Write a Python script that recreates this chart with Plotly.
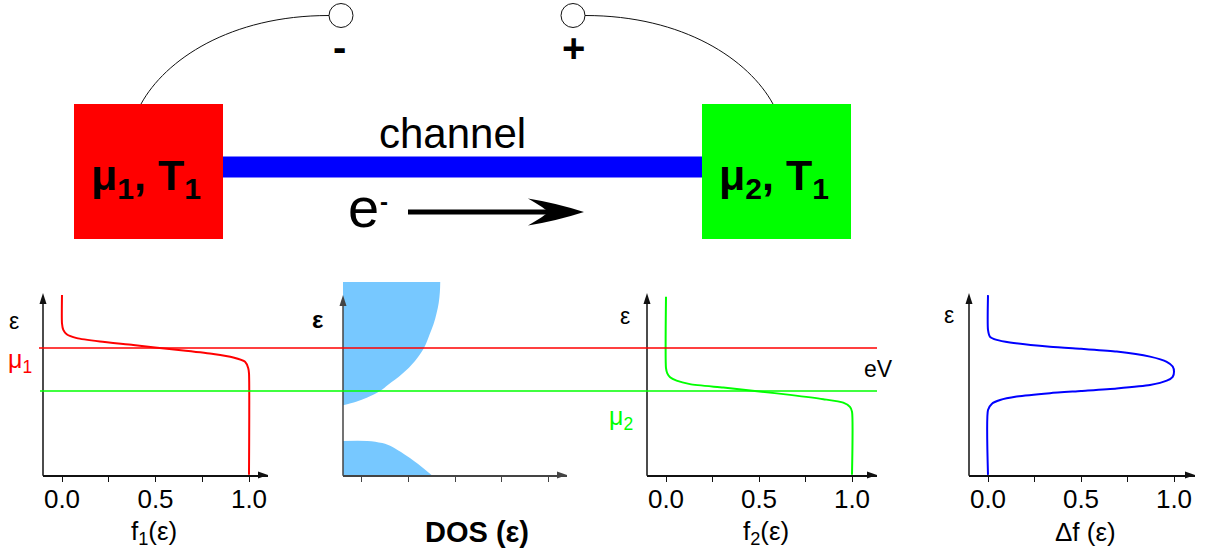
import plotly.graph_objects as go

W, H = 1205, 559

# Energy axis: ε in units of eV, with μ2 = 0 and μ1 = 1
MU1 = 1.0
MU2 = 0.0

# Fermi occupation of the left reservoir, f1(ε)
f1_eps = [2.23, 1.57, 1.42, 1.32, 1.23, 1.15, 1.07, 1.01, 0.94, 0.86, 0.78, 0.68, 0.53, 0.41, -1.95]
f1_val = [0.0, 0.0, 0.007, 0.025, 0.079, 0.203, 0.381, 0.497, 0.649, 0.809, 0.916, 0.979, 0.996, 1.0, 1.0]

# Fermi occupation of the right reservoir, f2(ε)
f2_eps = [2.19, 0.53, 0.41, 0.32, 0.24, 0.16, 0.08, -0.01, -0.09, -0.19, -0.27, -0.37, -0.48, -1.95]
f2_val = [0.0, 0.0, 0.007, 0.022, 0.057, 0.129, 0.308, 0.502, 0.667, 0.846, 0.953, 0.989, 1.0, 1.0]

# Transport window Δf(ε) = f1 - f2
df_eps = [2.23, 1.42, 1.26, 1.19, 1.13, 1.03, 0.98, 0.92, 0.80, 0.68, 0.57, 0.45,
          0.33, 0.24, 0.14, 0.06, 0.0, -0.05, -0.13, -0.21, -0.30, -0.44, -1.95]
df_val = [0.0, 0.0, 0.011, 0.047, 0.118, 0.333, 0.5, 0.692, 0.871, 0.961, 0.993, 1.0,
          0.993, 0.961, 0.871, 0.692, 0.5, 0.333, 0.154, 0.065, 0.020, 0.0, 0.0]

# Density of states of the channel: upper band and lower band
cb_eps = [2.54, 2.30, 2.05, 1.80, 1.55, 1.30, 1.00, 0.70, 0.40, 0.15, 0.0, -0.15, -0.25, -0.33]
cb_dos = [0.520, 0.518, 0.512, 0.500, 0.484, 0.462, 0.433, 0.385, 0.317, 0.243, 0.198, 0.130, 0.070, 0.0]
vb_eps = [-1.16, -1.16, -1.21, -1.30, -1.42, -1.61, -1.79, -1.96]
vb_dos = [0.0, 0.13, 0.21, 0.265, 0.31, 0.374, 0.428, 0.475]

f_ticks = [0.0, 0.5, 1.0]
f_ticktext = ["0.0", "0.5", "1.0"]
f_minor = [0.25, 0.75]

RED = "#FF0000"
GREEN = "#00FF00"
BLUE = "#0000FF"
DOS_BLUE = "#77C8FF"
FONT = "Liberation Sans, Arial, sans-serif"


def px(x):
    return x / W


def py(y):
    return 1 - y / H


# panel geometry in pixels: axis start, arrow tip, position of value 0, px per unit
PANELS = {
    "x": dict(left=43, right=268, zero=62, scale=187, color="#111111"),
    "x2": dict(left=343, right=567, zero=343, scale=187, color="#444444"),
    "x3": dict(left=647, right=877, zero=666, scale=186, color="#111111"),
    "x4": dict(left=969, right=1195, zero=988, scale=186, color="#111111"),
}
AX_Y = 475          # pixel row of the horizontal axes
TOP_Y = 282         # top of the plotting area
MU2_Y = 391         # pixel row of μ2
PX_PER_EV = 43

eps_lo = (MU2_Y - AX_Y) / PX_PER_EV
eps_hi = (MU2_Y - TOP_Y) / PX_PER_EV

fig = go.Figure()

fig.add_trace(go.Scatter(x=cb_dos, y=cb_eps, xaxis="x2", yaxis="y", mode="lines",
                         fill="tozerox", fillcolor=DOS_BLUE,
                         line=dict(width=0, color=DOS_BLUE, shape="spline", smoothing=1.0),
                         hoverinfo="skip"))
fig.add_trace(go.Scatter(x=vb_dos, y=vb_eps, xaxis="x2", yaxis="y", mode="lines",
                         fill="tozerox", fillcolor=DOS_BLUE,
                         line=dict(width=0, color=DOS_BLUE, shape="spline", smoothing=1.0),
                         hoverinfo="skip"))
fig.add_trace(go.Scatter(x=f1_val, y=f1_eps, xaxis="x", yaxis="y", mode="lines",
                         line=dict(color=RED, width=2, shape="spline", smoothing=0.6)))
fig.add_trace(go.Scatter(x=f2_val, y=f2_eps, xaxis="x3", yaxis="y", mode="lines",
                         line=dict(color=GREEN, width=2, shape="spline", smoothing=0.6)))
fig.add_trace(go.Scatter(x=df_val, y=df_eps, xaxis="x4", yaxis="y", mode="lines",
                         line=dict(color=BLUE, width=2, shape="spline", smoothing=0.6)))

layout_axes = {}
for name, p in PANELS.items():
    key = "xaxis" if name == "x" else "xaxis" + name[1:]
    ax = dict(
        domain=[px(p["left"]), px(p["right"])],
        range=[(p["left"] - p["zero"]) / p["scale"], (p["right"] - p["zero"]) / p["scale"]],
        anchor="y", showgrid=False, zeroline=False,
        showline=True, linecolor=p["color"], linewidth=1.5,
        ticks="outside", ticklen=5, tickwidth=1, tickcolor=p["color"],
        tickfont=dict(family=FONT, size=26, color="black"),
        ticklabelstandoff=-5,
        fixedrange=True,
    )
    if name == "x2":
        ax.update(tickmode="linear", tick0=0.1, dtick=0.25, showticklabels=False)
    else:
        ax.update(tickmode="array", tickvals=f_ticks, ticktext=f_ticktext,
                  minor=dict(tickvals=f_minor, ticks="outside", ticklen=5,
                             tickwidth=1, tickcolor=p["color"], showgrid=False))
    layout_axes[key] = ax

shapes = []


def tri(pts, color):
    d = "M " + " L ".join(f"{px(x):.5f},{py(y):.5f}" for x, y in pts) + " Z"
    return dict(type="path", path=d, xref="paper", yref="paper",
                fillcolor=color, line=dict(width=0), layer="above")


# vertical axes with arrowheads, horizontal arrowheads
for name, p in PANELS.items():
    c = p["color"]
    tip = 295 if name == "x2" else 293
    shapes.append(dict(type="line", xref="paper", yref="paper",
                       x0=px(p["left"]), x1=px(p["left"]), y0=py(AX_Y + 0.75), y1=py(tip + 6),
                       line=dict(color=c, width=1.5), layer="above"))
    shapes.append(tri([(p["left"], tip), (p["left"] - 3.5, tip + 11), (p["left"] + 3.5, tip + 11)], c))
    shapes.append(tri([(p["right"], AX_Y), (p["right"] - 10, AX_Y - 3.5), (p["right"] - 10, AX_Y + 3.5)], c))

# chemical potential levels running across the panels
shapes.append(dict(type="line", xref="paper", yref="y", x0=px(39), x1=px(877), y0=MU1, y1=MU1,
                   line=dict(color=RED, width=1.3), layer="above"))
shapes.append(dict(type="line", xref="paper", yref="y", x0=px(40), x1=px(877), y0=MU2, y1=MU2,
                   line=dict(color=GREEN, width=1.3), layer="above"))

# device sketch: reservoirs, channel, leads and terminals
shapes.append(dict(type="rect", xref="paper", yref="paper", x0=px(222), x1=px(703),
                   y0=py(177.5), y1=py(156.5), fillcolor=BLUE, line=dict(width=0)))
shapes.append(dict(type="rect", xref="paper", yref="paper", x0=px(74), x1=px(223),
                   y0=py(239), y1=py(104), fillcolor=RED, line=dict(width=0)))
shapes.append(dict(type="rect", xref="paper", yref="paper", x0=px(702), x1=px(851),
                   y0=py(239), y1=py(104), fillcolor=GREEN, line=dict(width=0)))


def path(cmds):
    out = []
    for c in cmds:
        if isinstance(c, str):
            out.append(c)
        else:
            out.append(f"{px(c[0]):.5f},{py(c[1]):.5f}")
    return " ".join(out)


shapes.append(dict(type="path", xref="paper", yref="paper",
                   path=path(["M", (141, 104), "C", (165, 60), (230, 15.5), (329, 15.5)]),
                   line=dict(color="#111111", width=1)))
shapes.append(dict(type="path", xref="paper", yref="paper",
                   path=path(["M", (773, 104), "C", (749, 60), (684, 15.5), (585, 15.5)]),
                   line=dict(color="#111111", width=1)))
for cx in (341, 573):
    shapes.append(dict(type="circle", xref="paper", yref="paper",
                       x0=px(cx - 12), x1=px(cx + 12), y0=py(27.5), y1=py(3.5),
                       fillcolor="white", line=dict(color="#111111", width=1)))

# electron flow arrow
shapes.append(dict(type="line", xref="paper", yref="paper", x0=px(408), x1=px(550),
                   y0=py(212), y1=py(212), line=dict(color="black", width=5)))
shapes.append(dict(type="path", xref="paper", yref="paper",
                   path=path(["M", (584, 212), "Q", (556, 203), (528, 198.5),
                              "Q", (546, 209), (548, 212),
                              "Q", (546, 215), (528, 225.5),
                              "Q", (556, 221), (584, 212), "Z"]),
                   fillcolor="black", line=dict(width=0)))

annotations = []


def ann(text, x, y, size, color="black", family=FONT, xanchor="center"):
    annotations.append(dict(text=text, x=px(x), y=py(y), xref="paper", yref="paper",
                            showarrow=False, xanchor=xanchor, yanchor="middle",
                            font=dict(family=family, size=size, color=color)))


ann("channel", 452, 133, 42)
ann("<b>μ<sub>1</sub>, T<sub>1</sub></b>", 146, 178, 43)
ann("<b>μ<sub>2</sub>, T<sub>1</sub></b>", 774, 178, 43)
ann("e", 363, 207, 56)
ann("<b>-</b>", 384, 201, 24)
ann("<b>-</b>", 339, 47, 40)
ann("<b>+</b>", 573, 48, 40)

ann("ε", 14, 321, 23)
ann("<b>ε</b>", 317, 319, 24)
ann("ε", 625, 316, 23)
ann("ε", 949, 315, 23)
ann("μ<sub>1</sub>", 20, 361, 25, color=RED)
ann("μ<sub>2</sub>", 621, 418, 25, color=GREEN)
ann("eV", 878, 369, 23)

ann("f<sub>1</sub>(ε)", 154, 532, 26)
ann("<b>DOS (ε)</b>", 477, 532, 29)
ann("f<sub>2</sub>(ε)", 766, 532, 26)
ann("Δf (ε)", 1085, 532, 26)

fig.update_layout(
    width=W, height=H,
    margin=dict(l=0, r=0, t=0, b=0),
    paper_bgcolor="white", plot_bgcolor="rgba(0,0,0,0)",
    showlegend=False,
    yaxis=dict(domain=[py(AX_Y), py(TOP_Y)], range=[eps_lo, eps_hi], visible=False,
               fixedrange=True),
    shapes=shapes,
    annotations=annotations,
    **layout_axes,
)

fig.write_html("out.html")
